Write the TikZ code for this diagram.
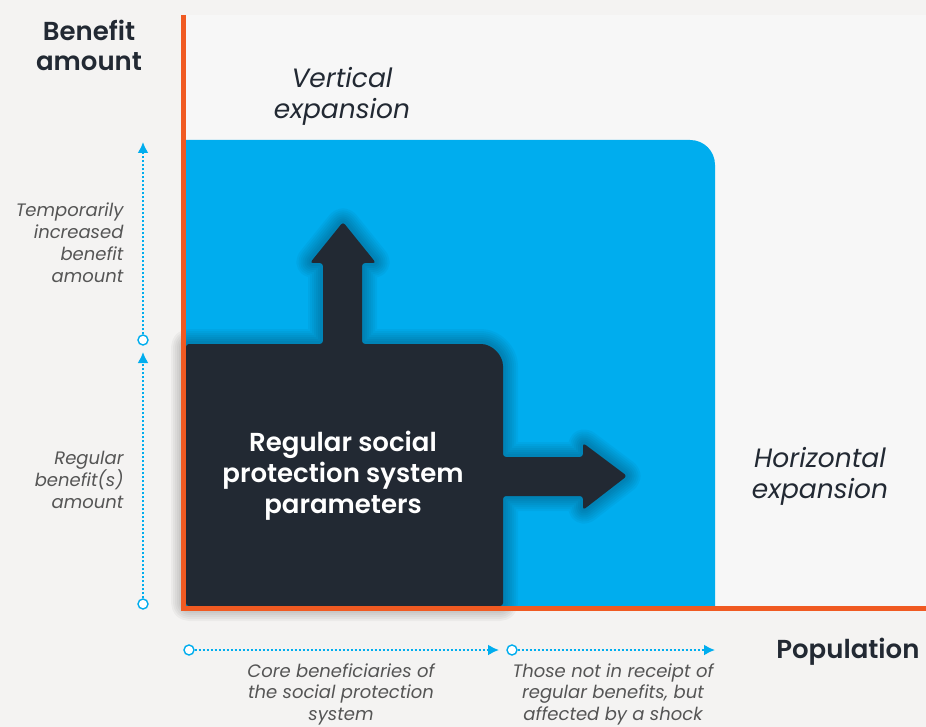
\documentclass[tikz,border=0pt]{standalone}
\usepackage{fontspec}
\setmainfont{Poppins}[BoldFont={Poppins SemiBold}]
\usetikzlibrary{arrows.meta}

\definecolor{bg}{HTML}{F4F3F2}
\definecolor{panel}{HTML}{F7F7F7}
\definecolor{sky}{HTML}{00ADEE}
\definecolor{ink}{HTML}{222933}
\definecolor{axisorange}{HTML}{F05A22}
\definecolor{note}{HTML}{555555}

\tikzset{
  ring/.style={circle, draw=sky, fill=white, line width=1.4pt, minimum size=10pt, inner sep=0pt},
  dotarrow/.style={sky, line width=2pt, dash pattern=on 2pt off 2pt,
                   -{Latex[length=11pt,width=11pt]}},
  axisline/.style={axisorange, line width=5pt},
  axistitle/.style={font=\fontsize{26}{30}\selectfont\bfseries, text=ink, align=center},
  expansion/.style={font=\fontsize{26.5}{31}\selectfont\itshape, text=ink, align=center},
  leftnote/.style={font=\fontsize{18}{22}\selectfont\itshape, text=note, align=right, anchor=east},
  bottomnote/.style={font=\fontsize{18}{21.5}\selectfont\itshape, text=note, align=center},
  coretext/.style={font=\fontsize{26}{31}\selectfont\bfseries, text=white, align=center},
  softshadow/.style={draw=black, draw opacity=0.035, line width=#1, line join=round, rounded corners=3pt},
}

% outline of the regular system block with its two expansion arrows
\newcommand\sysoutline{%
  (186,606) -- (186,344) -- (323,344) -- (323,263) -- (310,263) -- (343,222)
  -- (376,263) -- (362,263) -- (362,344) -- (478,344)
  .. controls (492,344) and (503,355) .. (503,369)
  -- (503,457) -- (583,457) -- (583,443) -- (627,476) -- (583,510)
  -- (583,496) -- (503,496) -- (503,606) -- cycle}

\begin{document}
\begin{tikzpicture}[x=1pt, y=-1pt]
  % canvas
  \useasboundingbox (0,0) rectangle (926,727);
  \fill[bg] (0,0) rectangle (926,727);
  \fill[panel] (186,15) rectangle (926,606);

  % expanded (blue) region
  \fill[sky] (186,606) -- (186,140) -- (690,140)
     .. controls (704,140) and (715,151) .. (715,165) -- (715,606) -- cycle;

  % soft shadow: stacked translucent strokes
  \foreach \w in {30,26,22,18,14,10,6} {
    \path[softshadow=\w pt] \sysoutline;
  }
  \fill[ink, rounded corners=3pt] \sysoutline;

  % axes
  \draw[axisline] (183,15) -- (183,610);
  \draw[axisline] (181,608) -- (926,608);

  % labels
  \node[axistitle] (yaxis) at (89,45) {Benefit\\amount};
  \node[axistitle, anchor=east] (xaxis) at (923,652) {Population};
  \node[expansion] (vert) at (342,96) {Vertical\\expansion};
  \node[expansion] (horiz) at (820,476) {Horizontal\\expansion};
  \node[coretext] (core) at (343,476) {Regular social\\protection system\\parameters};

  \node[leftnote] (temp) at (127,243) {Temporarily\\increased\\benefit\\amount};
  \node[leftnote] (reg) at (127,480) {Regular\\benefit(s)\\amount};
  \node[bottomnote] (corepop) at (341,694) {Core beneficiaries of\\the social protection\\system};
  \node[bottomnote] (shockpop) at (613,694) {Those not in receipt of\\regular benefits, but\\affected by a shock};

  % benefit-amount ranges
  \node[ring] (r1) at (143,604) {};
  \node[ring] (r2) at (143,340) {};
  \coordinate (t1) at (143,352);
  \coordinate (t2) at (143,142);
  \draw[dotarrow] (r1) -- (t1);
  \draw[dotarrow] (r2) -- (t2);

  % population ranges
  \node[ring] (p1) at (189,650) {};
  \node[ring] (p2) at (512,650) {};
  \coordinate (q1) at (499,650);
  \coordinate (q2) at (715,650);
  \draw[dotarrow] (p1) -- (q1);
  \draw[dotarrow] (p2) -- (q2);
\end{tikzpicture}
\end{document}
